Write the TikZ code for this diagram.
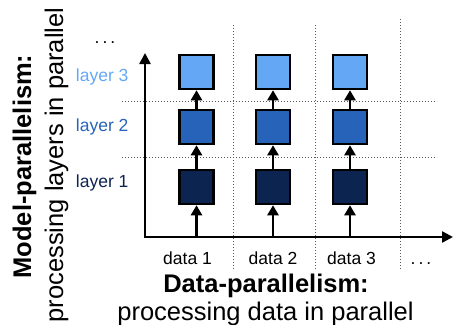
\documentclass[tikz,border=0pt]{standalone}
\usepackage{fontspec}
\setmainfont{Liberation Sans}
\usetikzlibrary{arrows.meta}
\definecolor{cl3}{HTML}{64A8F5}
\definecolor{cl2}{HTML}{2763B8}
\definecolor{cl1}{HTML}{0C2450}
\newcommand{\mydots}{.\hspace{3pt}.\hspace{3pt}.}
\begin{document}
\begin{tikzpicture}[x=1pt,y=-1pt,
  box/.style={draw=black, line width=2.5pt, minimum size=34pt, inner sep=0pt},
  arr/.style={line width=2.4pt, -{Triangle[width=11pt,length=10pt]}},
  gridline/.style={line width=0.9pt, dash pattern=on 0.9pt off 2.1pt, black!65},
  lbl/.style={font=\fontsize{17.5}{20}\selectfont, anchor=base east},
  dlbl/.style={font=\fontsize{17.5}{20}\selectfont, anchor=base},
  ttl/.style={font=\fontsize{25.5}{30}\selectfont, anchor=base}]
\useasboundingbox (0,0) rectangle (454,324);
% grid
\draw[gridline] (122,101.5) -- (437,101.5);
\draw[gridline] (122,157) -- (437,157);
\draw[gridline] (233,25) -- (233,270);
\draw[gridline] (315.5,25) -- (315.5,270);
\draw[gridline] (400,19) -- (400,270);
% axes
\coordinate (o) at (145,237);
\coordinate (ytop) at (145,53);
\coordinate (xend) at (453,237);
\draw[line width=2.4pt, {Triangle[width=11pt,length=11pt]}-{Triangle[width=11pt,length=11pt]}] (ytop) -- (o) -- (xend);
% boxes
\foreach \c/\x in {1/196.5,2/273,3/350}{
  \node[box, fill=cl1] (b\c1) at (\x,187) {};
  \node[box, fill=cl2] (b\c2) at (\x,127) {};
  \node[box, fill=cl3] (b\c3) at (\x,72) {};
  \draw[arr] (b\c1.south |- o) -- (b\c1.south);
  \draw[arr] (b\c1.north) -- (b\c2.south);
  \draw[arr] (b\c2.north) -- (b\c3.south);
}
% layer labels
\node[lbl, text=cl3] (l3) at (132,81) {layer 3};
\node[lbl, text=cl2] (l2) at (132,131) {layer 2};
\node[lbl, text=cl1] (l1) at (132,187) {layer 1};
\node[dlbl] (ldots) at (105,43.5) {\mydots};
% data labels
\node[dlbl] (d1) at (187.5,264) {data 1};
\node[dlbl] (d2) at (273,264) {data 2};
\node[dlbl] (d3) at (351.5,264) {data 3};
\node[dlbl] (ddots) at (421,264) {\mydots};
% titles
\node[ttl] (dt) at (266,292) {\textbf{Data-parallelism:}};
\node[ttl] (ds) at (265.5,320) {processing data in parallel};
\node[ttl, rotate=90] (mt) at (31,166.5) {\textbf{Model-parallelism:}};
\node[ttl, rotate=90] (ms) at (63,165) {processing layers in parallel};
\end{tikzpicture}
\end{document}
